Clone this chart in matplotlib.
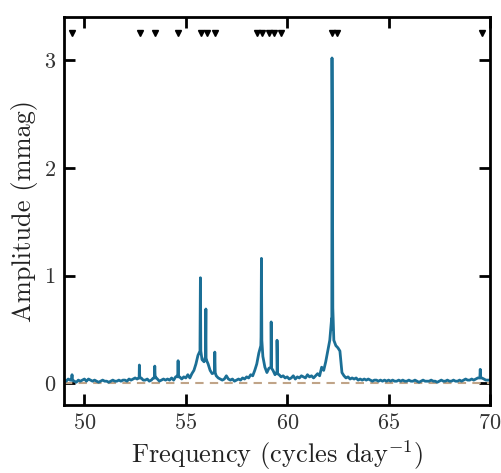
import numpy as np
import matplotlib
matplotlib.use("Agg")
import matplotlib.pyplot as plt

plt.rcParams["font.family"] = "serif"
plt.rcParams["font.serif"] = ["cmr10", "DejaVu Serif"]
plt.rcParams["mathtext.fontset"] = "cm"
plt.rcParams["axes.formatter.use_mathtext"] = True

# amplitude spectrum (background), sampled every 0.1 c/d from 49.0 to 70.0
freq = np.round(np.arange(49.0, 70.05, 0.1), 2)
amp = [
    0.03, 0.02, 0.04, 0.03, 0.04, 0.02, 0.01, 0.03, 0.02, 0.03,  # 49
    0.04, 0.02, 0.04, 0.03, 0.02, 0.03, 0.02, 0.01, 0.02, 0.03,  # 50
    0.02, 0.02, 0.01, 0.02, 0.03, 0.02, 0.02, 0.03, 0.02, 0.03,  # 51
    0.03, 0.02, 0.04, 0.03, 0.04, 0.05, 0.04, 0.06, 0.05, 0.03,  # 52
    0.03, 0.04, 0.02, 0.03, 0.05, 0.06, 0.04, 0.02, 0.03, 0.04,  # 53
    0.03, 0.04, 0.03, 0.05, 0.03, 0.06, 0.07, 0.06, 0.04, 0.06,  # 54
    0.05, 0.08, 0.05, 0.09, 0.12, 0.18, 0.26, 0.30, 0.22, 0.20,  # 55
    0.22, 0.18, 0.12, 0.09, 0.10, 0.07, 0.05, 0.04, 0.03, 0.04,  # 56
    0.07, 0.04, 0.03, 0.04, 0.02, 0.03, 0.04, 0.03, 0.05, 0.04,  # 57
    0.06, 0.05, 0.08, 0.07, 0.12, 0.18, 0.28, 0.35, 0.25, 0.15,  # 58
    0.10, 0.14, 0.15, 0.12, 0.08, 0.10, 0.08, 0.06, 0.07, 0.05,  # 59
    0.06, 0.04, 0.05, 0.07, 0.04, 0.06, 0.05, 0.07, 0.06, 0.05,  # 60
    0.08, 0.06, 0.07, 0.05, 0.07, 0.09, 0.07, 0.15, 0.12, 0.20,  # 61
    0.30, 0.40, 0.50, 0.40, 0.35, 0.33, 0.30, 0.10, 0.07, 0.05,  # 62
    0.06, 0.04, 0.05, 0.04, 0.05, 0.03, 0.04, 0.03, 0.04, 0.03,  # 63
    0.04, 0.03, 0.02, 0.03, 0.03, 0.02, 0.03, 0.02, 0.03, 0.02,  # 64
    0.03, 0.02, 0.03, 0.02, 0.02, 0.03, 0.02, 0.03, 0.02, 0.02,  # 65
    0.03, 0.02, 0.02, 0.03, 0.02, 0.01, 0.02, 0.03, 0.02, 0.02,  # 66
    0.02, 0.03, 0.02, 0.02, 0.01, 0.02, 0.03, 0.02, 0.02, 0.03,  # 67
    0.02, 0.02, 0.03, 0.02, 0.02, 0.03, 0.02, 0.03, 0.04, 0.03,  # 68
    0.03, 0.04, 0.03, 0.04, 0.05, 0.05, 0.05, 0.04, 0.03, 0.03,  # 69
    0.03,
]

# narrow peaks (with their flanks)
peak_freq = [49.37, 49.39, 49.41, 52.69, 52.71, 52.73, 53.45, 53.47, 53.49,
             54.60, 54.62, 54.64, 55.70, 55.72, 55.74, 55.97, 55.99, 56.01,
             56.41, 56.43, 56.45, 58.71, 58.73, 58.75, 59.19, 59.21, 59.23,
             59.48, 59.50, 59.52, 62.19, 62.21, 62.23, 62.25,
             69.50, 69.52, 69.54]
peak_amp = [0.03, 0.08, 0.03, 0.05, 0.17, 0.05, 0.05, 0.16, 0.05,
            0.06, 0.21, 0.06, 0.35, 0.98, 0.30, 0.25, 0.69, 0.22,
            0.10, 0.29, 0.10, 0.43, 1.16, 0.40, 0.15, 0.57, 0.14,
            0.10, 0.40, 0.09, 0.60, 3.02, 2.15, 0.70,
            0.05, 0.13, 0.05]

# noise level and extracted frequencies
noise_level = 0.0
extracted = [49.41, 52.76, 53.50, 54.64, 55.77, 56.07, 56.46,
             58.49, 58.78, 59.08, 59.37, 59.67, 62.23, 62.48, 69.59]
marker_y = 3.25

f_all = np.concatenate([freq, peak_freq])
a_all = np.concatenate([amp, peak_amp])
order = np.argsort(f_all, kind="stable")

fig = plt.figure(figsize=(5.01, 4.73), dpi=100)
ax = fig.add_axes([0.128, 0.144, 0.850, 0.820])

ax.axhline(noise_level, color="#c0a488", ls="--", lw=1.5, dashes=(4, 3))
ax.plot(f_all[order], a_all[order], color="#1b6f96", lw=2.0)
ax.plot(extracted, [marker_y] * len(extracted), "v", color="black", ms=5)

ax.set_xlim(49, 70)
ax.set_ylim(-0.2, 3.4)
ax.set_xticks([50, 55, 60, 65, 70])
ax.set_yticks([0, 1, 2, 3])
ax.tick_params(direction="in", length=8, width=2, labelsize=16,
               top=True, right=True, pad=6, labelcolor="#333333")
for s in ax.spines.values():
    s.set_linewidth(2)

ax.set_xlabel(r"Frequency (cycles day$^{-1}$)", fontsize=19, color="#222222")
ax.set_ylabel("Amplitude (mmag)", fontsize=19, color="#222222")

fig.savefig("out.png", dpi=100)
